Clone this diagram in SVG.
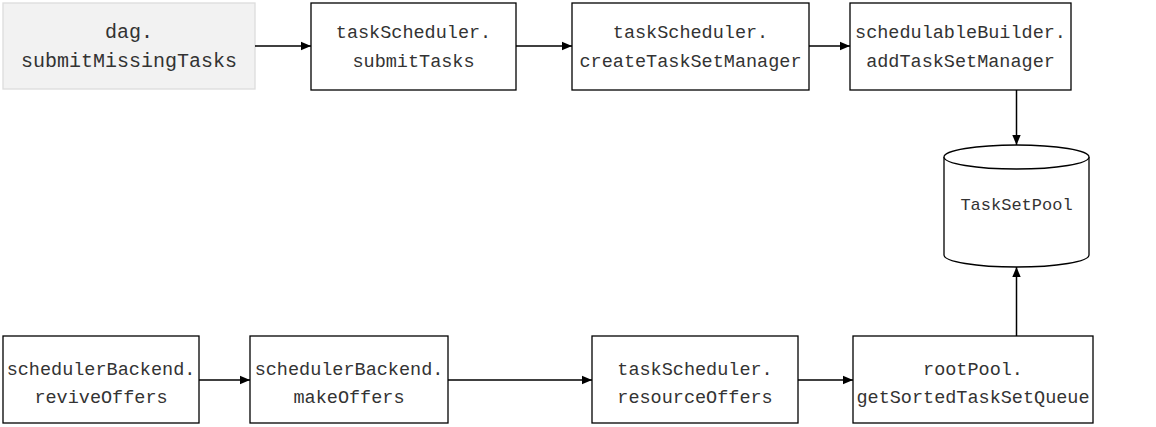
<svg xmlns="http://www.w3.org/2000/svg" width="1156" height="427" viewBox="0 0 1156 427">
  <style>
    .box { fill: #ffffff; stroke: #000000; stroke-width: 1.3; }
    .start { fill: #f2f2f2; stroke: #dcdcdc; stroke-width: 1.3; }
    .lbl { font-family: "Liberation Mono", "DejaVu Sans Mono", monospace; font-size: 18.5px; fill: #333333; text-anchor: middle; }
    .lbl.big { font-size: 20px; }
    .lbl.small { font-size: 17px; }
    .edge { fill: none; stroke: #000000; stroke-width: 1.5; marker-end: url(#arrow); }
  </style>
  <defs>
    <marker id="arrow" viewBox="0 0 10 10" refX="10" refY="5" markerUnits="userSpaceOnUse" markerWidth="10" markerHeight="10" orient="auto">
      <path d="M0,0.8 L10,5 L0,9.2 z" fill="#000000"/>
    </marker>
  </defs>
  <rect width="1156" height="427" fill="#ffffff"/>

  <!-- top row -->
  <g id="dag-submitMissingTasks">
    <rect class="start" x="3" y="3" width="252" height="86"/>
    <text class="lbl big" x="129" y="38">dag.</text>
    <text class="lbl big" x="129" y="67">submitMissingTasks</text>
  </g>
  <g id="taskScheduler-submitTasks">
    <rect class="box" x="311" y="3" width="205" height="87"/>
    <text class="lbl" x="413.5" y="38">taskScheduler.</text>
    <text class="lbl" x="413.5" y="67">submitTasks</text>
  </g>
  <g id="taskScheduler-createTaskSetManager">
    <rect class="box" x="572" y="3" width="237" height="87"/>
    <text class="lbl" x="690.5" y="38">taskScheduler.</text>
    <text class="lbl" x="690.5" y="67">createTaskSetManager</text>
  </g>
  <g id="schedulableBuilder-addTaskSetManager">
    <rect class="box" x="850" y="3" width="221" height="87"/>
    <text class="lbl" x="960.5" y="38">schedulableBuilder.</text>
    <text class="lbl" x="960.5" y="67">addTaskSetManager</text>
  </g>

  <!-- pool store -->
  <g id="TaskSetPool">
    <path class="box" d="M944,157 L944,255 A72.5,12 0 0 0 1089,255 L1089,157"/>
    <ellipse class="box" cx="1016.5" cy="157" rx="72.5" ry="12"/>
    <text class="lbl small" x="1016.5" y="210">TaskSetPool</text>
  </g>

  <!-- bottom row -->
  <g id="schedulerBackend-reviveOffers">
    <rect class="box" x="3" y="336" width="196" height="87"/>
    <text class="lbl" x="101" y="375">schedulerBackend.</text>
    <text class="lbl" x="101" y="403">reviveOffers</text>
  </g>
  <g id="schedulerBackend-makeOffers">
    <rect class="box" x="250" y="336" width="198" height="87"/>
    <text class="lbl" x="349" y="375">schedulerBackend.</text>
    <text class="lbl" x="349" y="403">makeOffers</text>
  </g>
  <g id="taskScheduler-resourceOffers">
    <rect class="box" x="592" y="336" width="206" height="87"/>
    <text class="lbl" x="695" y="375">taskScheduler.</text>
    <text class="lbl" x="695" y="403">resourceOffers</text>
  </g>
  <g id="rootPool-getSortedTaskSetQueue">
    <rect class="box" x="853" y="336" width="240" height="87"/>
    <text class="lbl" x="973" y="375">rootPool.</text>
    <text class="lbl" x="973" y="403">getSortedTaskSetQueue</text>
  </g>

  <!-- connectors -->
  <g id="connectors">
    <line class="edge" x1="255" y1="46" x2="311" y2="46"/>
    <line class="edge" x1="516" y1="46" x2="572" y2="46"/>
    <line class="edge" x1="809" y1="46" x2="850" y2="46"/>
    <line class="edge" x1="1016.5" y1="90" x2="1016.5" y2="145"/>
    <line class="edge" x1="1016.5" y1="336" x2="1016.5" y2="267"/>
    <line class="edge" x1="199" y1="380" x2="250" y2="380"/>
    <line class="edge" x1="448" y1="380" x2="592" y2="380"/>
    <line class="edge" x1="798" y1="380" x2="853" y2="380"/>
  </g>
</svg>
